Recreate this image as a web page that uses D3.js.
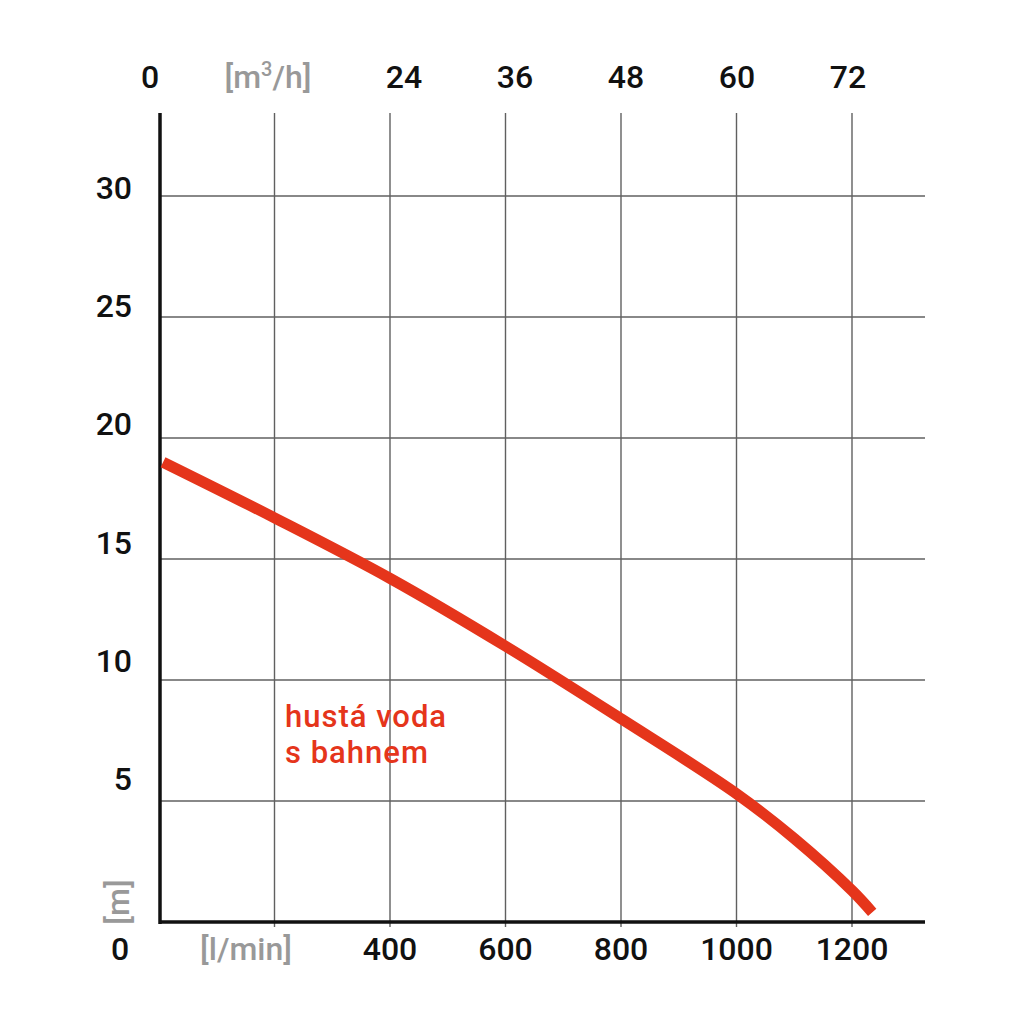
<!DOCTYPE html>
<html><head><meta charset="utf-8">
<script src="https://cdn.jsdelivr.net/npm/d3@7"></script>
<style>body{margin:0;background:#fff}svg{display:block}text{font-family:Roboto,"DejaVu Sans",sans-serif;font-weight:500}</style>
</head><body>
<script>
const flowLmin = [7, 200, 400, 600, 800, 1000, 1100, 1200, 1235];
const headM    = [19.0, 16.7, 14.2, 11.4, 8.4, 5.3, 3.45, 1.3, 0.4];
const bottomTicks = [400, 600, 800, 1000, 1200];
const gridX = [200, 400, 600, 800, 1000, 1200];
const topTicks = [24, 36, 48, 60, 72];
const yTicks = [5, 10, 15, 20, 25, 30];
const seriesLabel = ["hustá voda", "s bahnem"];

const W = 1024, H = 1024;
const svg = d3.select("body").append("svg").attr("width", W).attr("height", H);
const x = d3.scaleLinear().domain([0, 1200]).range([159, 852]);
const y = d3.scaleLinear().domain([0, 30]).range([922, 196]);
// label placement scales (labels in the original are spaced slightly differently from the grid)
const yLab = d3.scaleLinear().domain([5, 30]).range([790, 199]);
const xTop = d3.scaleLinear().domain([24, 72]).range([404, 848]);
const xMax = x.invert(925), yMax = y.invert(113);

const grid = svg.append("g").attr("stroke", "#606060").attr("stroke-width", 1.4);
grid.selectAll("line.v").data(gridX).join("line").attr("class","v")
  .attr("x1", d => x(d)).attr("x2", d => x(d)).attr("y1", y(yMax)).attr("y2", y(0) + 5);
grid.selectAll("line.h").data(yTicks).join("line").attr("class","h")
  .attr("x1", x(0)).attr("x2", x(xMax)).attr("y1", d => y(d)).attr("y2", d => y(d));

// axes
svg.append("line").attr("x1", x(0)+1).attr("x2", x(0)+1).attr("y1", y(yMax)).attr("y2", y(0)+2)
  .attr("stroke", "#111").attr("stroke-width", 3.5);
svg.append("line").attr("x1", x(0)).attr("x2", x(xMax)).attr("y1", y(0)).attr("y2", y(0))
  .attr("stroke", "#111").attr("stroke-width", 3.5);

// curve
const line = d3.line().x((d,i) => x(flowLmin[i])).y((d,i) => y(headM[i])).curve(d3.curveCatmullRom.alpha(0.5));
svg.append("path").datum(headM).attr("d", line).attr("fill", "none")
  .attr("stroke", "#e5351b").attr("stroke-width", 11);

// left labels
svg.selectAll("text.yl").data(yTicks).join("text").attr("class","yl")
  .attr("x", 132).attr("y", d => yLab(d)).attr("text-anchor", "end")
  .attr("font-size", 32).attr("fill", "#111").text(d => d);

// bottom labels
svg.selectAll("text.xl").data(bottomTicks).join("text").attr("class","xl")
  .attr("x", d => x(d)).attr("y", 960).attr("text-anchor", "middle")
  .attr("font-size", 32).attr("fill", "#111").text(d => d);
svg.append("text").attr("x", 120).attr("y", 960).attr("text-anchor","middle")
  .attr("font-size", 32).attr("fill", "#111").text("0");
svg.append("text").attr("x", 246).attr("y", 960).attr("text-anchor","middle")
  .attr("font-size", 32).attr("fill", "#999").text("[l/min]");

// top labels
svg.selectAll("text.tl").data(topTicks).join("text").attr("class","tl")
  .attr("x", d => xTop(d)).attr("y", 88).attr("text-anchor", "middle")
  .attr("font-size", 32).attr("fill", "#111").text(d => d);
svg.append("text").attr("x", 150).attr("y", 88).attr("text-anchor","middle")
  .attr("font-size", 32).attr("fill", "#111").text("0");
const mt = svg.append("text").attr("x", 268).attr("y", 88).attr("text-anchor","middle")
  .attr("font-size", 32).attr("fill", "#999");
mt.append("tspan").text("[m");
mt.append("tspan").attr("font-size", 20).attr("dy", -12).text("3");
mt.append("tspan").attr("dy", 12).text("/h]");

// [m]
svg.append("text").attr("transform", "translate(129,902) rotate(-90)").attr("text-anchor","middle")
  .attr("font-size", 32).attr("fill", "#999").text("[m]");

// series label
svg.selectAll("text.sl").data(seriesLabel).join("text").attr("class","sl")
  .attr("x", 285).attr("y", (d,i) => 727 + i*36)
  .attr("font-size", 31).attr("letter-spacing", 1).attr("fill", "#e5351b").text(d => d);
</script>
</body></html>
